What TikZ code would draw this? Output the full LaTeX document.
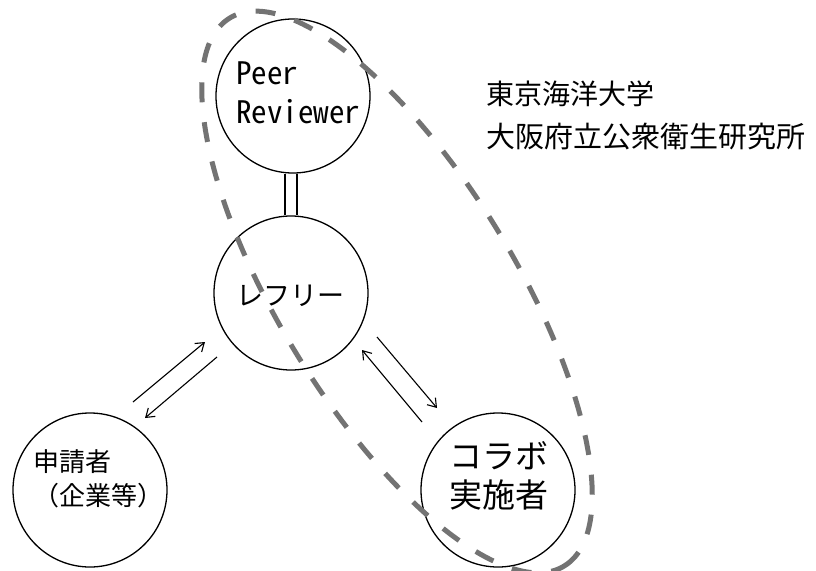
\documentclass[tikz,border=0pt]{standalone}
\usepackage{fontspec}
\newfontfamily\jp{Noto Sans CJK JP}
\newfontfamily\hw[RawFeature=+hwid]{Noto Sans CJK JP}
\usetikzlibrary{arrows.meta}
\begin{document}
\begin{tikzpicture}[x=1pt,y=-1pt,
  circ/.style={circle, draw, line width=1.3pt, minimum size=154pt, inner sep=0pt},
  lbl/.style={inner sep=0pt},
  arr/.style={line width=1.1pt, -{Straight Barb[length=8pt,width=11pt,line width=1.1pt]}},
  ring/.style={draw=black!55, line width=5pt, dash pattern=on 20pt off 20pt}]
\useasboundingbox (0,0) rectangle (816,570);
\fill[white] (0,0) rectangle (816,570);
% circles
\node[circ] (peer) at (293,96) {};
\node[circ] (ref) at (291,293) {};
\node[circ] (app) at (90,490) {};
\node[circ] (col) at (498,490) {};
% double link
\draw[line width=1.2pt] ([xshift=-6pt]ref.north |- peer.south) -- ([xshift=-6pt]ref.north);
\draw[line width=1.2pt] ([xshift=6pt]ref.north |- peer.south) -- ([xshift=6pt]ref.north);
% arrows
\coordinate (a1s) at (133,402); \coordinate (a1e) at (205,342);
\coordinate (a2s) at (217,357); \coordinate (a2e) at (145,418);
\coordinate (a3s) at (422,422); \coordinate (a3e) at (362,350);
\coordinate (a4s) at (377,337); \coordinate (a4e) at (437,408);
\draw[arr] (a1s) -- (a1e);
\draw[arr] (a2s) -- (a2e);
\draw[arr] (a3s) -- (a3e);
\draw[arr] (a4s) -- (a4e);
% texts
\node[lbl, font=\hw\fontsize{31}{31}\selectfont, anchor=west] (peerA) at (236,73) {Peer};
\node[lbl, font=\hw\fontsize{31}{31}\selectfont, anchor=west] (peerB) at (236,111.5) {Reviewer};
\node[lbl, font=\jp\fontsize{27}{27}\selectfont] (refT) at (290.5,296) {レフリー};
\node[lbl, font=\jp\fontsize{26}{26}\selectfont, anchor=west] (appA) at (33,461.5) {申請者};
\node[lbl, font=\jp\fontsize{26}{26}\selectfont, anchor=west] (appB) at (33,496) {（企業等）};
\node[lbl, font=\jp\fontsize{33}{33}\selectfont] (colA) at (498.5,456) {コラボ};
\node[lbl, font=\jp\fontsize{33}{33}\selectfont] (colB) at (498.5,495) {実施者};
\node[lbl, font=\jp\fontsize{28}{28}\selectfont, anchor=west] (org1) at (486,94) {東京海洋大学};
\node[lbl, font=\jp\fontsize{29}{29}\selectfont, anchor=west] (org2) at (486,136.5) {大阪府立公衆衛生研究所};
% dashed group ellipse
\draw[ring, rotate around={-58.6:(397,292)}] (397,292) ellipse [x radius=321pt, y radius=118pt];
\end{tikzpicture}
\end{document}
